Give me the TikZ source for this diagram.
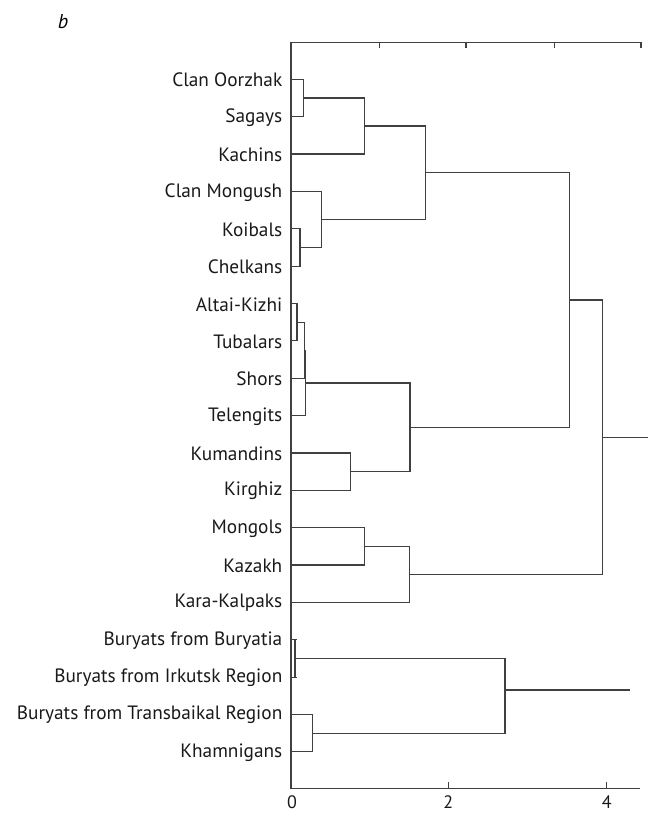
\documentclass[tikz,border=0pt]{standalone}
\usepackage{fontspec}
\setmainfont{PT Sans}
\begin{document}
\begin{tikzpicture}[x=1pt,y=-1pt,
  ln/.style={line width=1.2pt,draw=black!75,line cap=rect},
  lab/.style={anchor=east,inner sep=0pt,font=\fontsize{19.3}{22}\selectfont,text=black!90},
  ticklab/.style={anchor=base,inner sep=0pt,font=\fontsize{18}{20}\selectfont,text=black!90}]
\useasboundingbox (0,0) rectangle (653,813);
% panel letter
\node[inner sep=0pt,font=\fontsize{20}{22}\selectfont\itshape] (panel) at (63,22) {b};
% axes
\coordinate (tl) at (291,42.7);
\coordinate (tr) at (641.7,42.7);
\coordinate (bl) at (291,788.7);
\coordinate (br) at (639.3,788.7);
\draw[ln] (tr) -- (tl) -- (bl) -- (br);
\foreach \x in {379.3,466,554.7,641}{\draw[ln] (\x,42.7) -- (\x,47.5);}
\foreach \x in {448.3,606.7}{\draw[ln] (\x,788.7) -- (\x,782.7);}
\node[ticklab] (x0) at (292,808.5) {0};
\node[ticklab] (x2) at (448.3,808.5) {2};
\node[ticklab] (x4) at (606.7,808.5) {4};
% leaves
\foreach \i/\y/\t in {0/79.3/Clan Oorzhak,1/116.7/Sagays,2/154.0/Kachins,3/191.4/Clan Mongush,
  4/228.7/Koibals,5/266.1/Chelkans,6/303.5/Altai-Kizhi,7/340.8/Tubalars,8/378.2/Shors,
  9/415.5/Telengits,10/452.9/Kumandins,11/490.3/Kirghiz,12/527.6/Mongols,13/565.0/Kazakh,
  14/602.3/Kara-Kalpaks,15/639.7/Buryats from Buryatia,16/677.1/Buryats from Irkutsk Region,
  17/714.4/Buryats from Transbaikal Region,18/751.8/Khamnigans}{
  \coordinate (p\i) at (291,\y);
  \node[lab] (t\i) at (282.5,\y+0.8) {\t};
}
% merge points
\coordinate (A) at (303.3,98.0);
\coordinate (B) at (364.7,126.0);
\coordinate (C) at (300,247.4);
\coordinate (D) at (321.7,219.4);
\coordinate (E) at (425.3,172.7);
\coordinate (G) at (297,322.2);
\coordinate (H) at (304.3,350.2);
\coordinate (I) at (305.7,382.9);
\coordinate (J) at (350.3,471.6);
\coordinate (K) at (410,427.2);
\coordinate (F) at (569.7,300.0);
\coordinate (L) at (364.7,546.3);
\coordinate (M) at (409.3,574.3);
\coordinate (N) at (602.7,437.2);
\coordinate (Nend) at (647.7,437.2);
\coordinate (O) at (295,658.4);
\coordinate (P) at (312.3,733.1);
\coordinate (Q) at (505,690);
\coordinate (Qend) at (629.3,690);
% dendrogram
\draw[ln] (p0) -| (A) |- (p1);
\draw[ln] (A) -| (B) |- (p2);
\draw[ln] (p4) -| (C) |- (p5);
\draw[ln] (p3) -| (D) |- (C);
\draw[ln] (B) -| (E) |- (D);
\draw[ln] (p6) -| (G) |- (p7);
\draw[ln] (G) -| (H) |- (p8);
\draw[ln] (H) -| (I) |- (p9);
\draw[ln] (p10) -| (J) |- (p11);
\draw[ln] (I) -| (K) |- (J);
\draw[ln] (E) -| (F) |- (K);
\draw[ln] (p12) -| (L) |- (p13);
\draw[ln] (L) -| (M) |- (p14);
\draw[ln] (F) -| (N) |- (M);
\draw[ln] (N) -- (Nend);
\draw[ln] (p15) -| (O) |- (p16);
\draw[ln] (p15) -- ++(5.7,0);
\draw[ln] (p16) -- ++(5.7,0);
\draw[ln] (p17) -| (P) |- (p18);
\draw[ln] (O) -| (Q) |- (P);
\draw[ln] (Q) -- (Qend);
\end{tikzpicture}
\end{document}
